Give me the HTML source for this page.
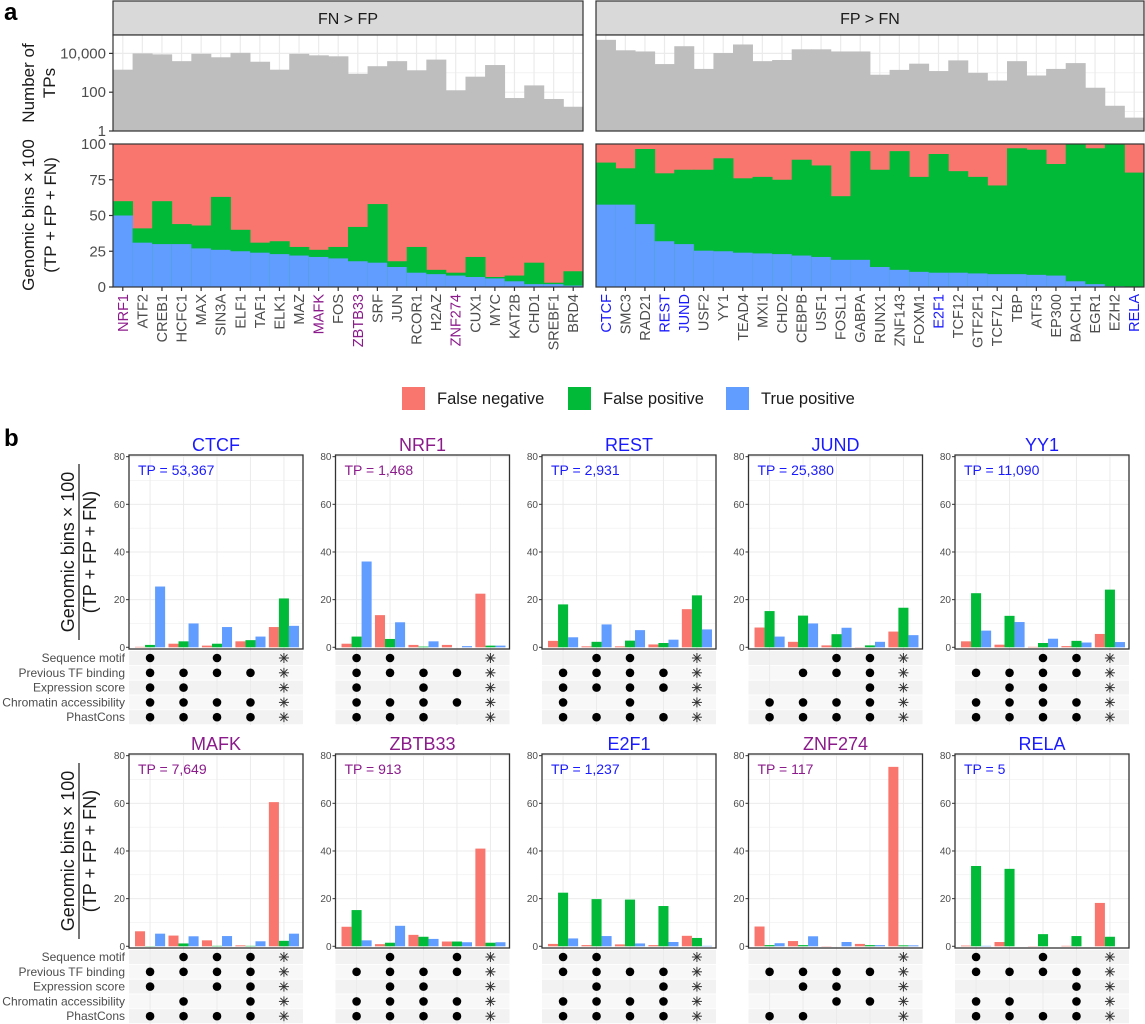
<!DOCTYPE html>
<html><head><meta charset="utf-8"><style>
body{margin:0;background:#fff}
svg{display:block;font-family:"Liberation Sans",sans-serif}
</style></head><body>
<svg id="fig" width="1145" height="1024" viewBox="0 0 1145 1024" xmlns="http://www.w3.org/2000/svg"></svg>
<script>
// ---------- Panel a data ----------
const leftTFs=["NRF1","ATF2","CREB1","HCFC1","MAX","SIN3A","ELF1","TAF1","ELK1","MAZ","MAFK","FOS","ZBTB33","SRF","JUN","RCOR1","H2AZ","ZNF274","CUX1","MYC","KAT2B","CHD1","SREBF1","BRD4"];
const leftLogTP=[3.16,4.0,3.95,3.6,3.98,3.8,4.03,3.57,3.16,3.98,3.9,3.85,2.95,3.34,3.6,3.13,3.68,2.1,2.8,3.4,1.7,2.35,1.65,1.25];
const leftTP=[50,31,30,30,27,26,25,24,23,22,21,20,18,17,14,10,9,8,7,6,4,2,2,1];
const leftTPFP=[60,41,60,44,43,63,40,31,32,28,26,28,42,58,18,28,12,10,21,7,8,17,3,11];
const rightTFs=["CTCF","SMC3","RAD21","REST","JUND","USF2","YY1","TEAD4","MXI1","CHD2","CEBPB","USF1","FOSL1","GABPA","RUNX1","ZNF143","FOXM1","E2F1","TCF12","GTF2F1","TCF7L2","TBP","ATF3","EP300","BACH1","EGR1","EZH2","RELA"];
const rightLogTP=[4.7,4.16,4.1,3.45,4.37,3.2,4.02,4.46,3.6,3.66,4.21,4.21,4.1,4.1,2.9,3.15,3.47,3.09,3.64,3.0,2.6,3.6,2.86,3.2,3.5,2.23,1.3,0.69];
const rightTP=[57.6,57.6,44,32,30,25.4,25,24,23.5,23,22,21,19,19,14,12,10.6,10,10,9.5,9,9,8.5,8,4,2,0.5,0];
const rightTPFP=[87,83,96.5,79.5,82,82,90,76,77,75,89,85,63.5,95,82,95,77,93,81,77,71,97,96,86,100,97,100,80];
const purpleTFs=["NRF1","MAFK","ZBTB33","ZNF274"];
const blueTFs=["CTCF","REST","JUND","E2F1","RELA"];
const topTicks=[4,2,0];
const topTickLabels=["10,000","100","1"];
const pctTicks=[0,25,50,75,100];

// ---------- Panel b data ----------
const bNames=["CTCF","NRF1","REST","JUND","YY1","MAFK","ZBTB33","E2F1","ZNF274","RELA"];
const bTPLabels=["53,367","1,468","2,931","25,380","11,090","7,649","913","1,237","117","5"];
const bFN=[[0.2,1.5,0.7,2.5,8.5],[1.5,13.5,1,1,22.5],[2.7,0.4,0.4,1.2,16],[8.3,2.3,0.8,0.1,6.6],[2.5,1.1,0.2,0.5,5.6],
 [6.3,4.5,2.5,0.4,60.5],[8.2,0.9,4.8,2,41],[1,0.5,0.8,0.5,4.4],[8.3,2.2,0.1,1,75.3],[0.3,1.8,0.1,0.2,18.2]];
const bFP=[[1,2.5,1.5,3,20.5],[4.5,3.5,0.3,0,0.7],[18,2.3,2.8,1.8,21.8],[15.2,13.3,5.5,0.8,16.6],[22.7,13.2,1.8,2.7,24.2],
 [0.1,1.2,0.2,0.2,2.3],[15.2,1.5,4,2,1.5],[22.5,19.8,19.6,16.9,3.5],[0.5,0.5,0,0.5,0.4],[33.7,32.5,5.1,4.3,4]];
const bTP=[[25.5,10,8.5,4.5,9],[36,10.5,2.5,0.5,0.7],[4.2,9.6,7.2,3.2,7.5],[4.5,10,8.2,2.3,5.1],[7,10.6,3.6,2,2.2],
 [5.3,4.2,4.3,2.1,5.3],[2.5,8.6,3.1,1.7,1.7],[3.3,4.3,1.2,1.8,0.2],[1.3,4.2,1.8,0.5,0.4],[0.2,0,0,0,0]];
const bMatrix=[
 [[1,3],[1,2,3,4],[1,2],[1,2,3,4],[1,2,3,4]],
 [[1,2],[1,2,3,4],[1,3],[1,2,3,4],[1,2,3]],
 [[2,3],[1,2,3,4],[1,2,3,4],[1,3],[1,2,3,4]],
 [[3,4],[2,3,4],[4],[1,2,3,4],[1,2,3,4]],
 [[3,4],[1,2,3,4],[2,3],[1,2,3,4],[1,2,3,4]],
 [[2,3,4],[1,2,3,4],[1,3,4],[2,4],[1,2,3,4]],
 [[2,4],[1,2,3,4],[2,3],[1,2,3,4],[1,2,3,4]],
 [[1,2],[1,2,3,4],[2,4],[1,2,3,4],[1,2,3,4]],
 [[],[1,2,3,4],[2,3],[3,4],[1,2]],
 [[1,3],[1,2,3,4],[4],[1,2,4],[1,2,3,4]]];
const featureNames=["Sequence motif","Previous TF binding","Expression score","Chromatin accessibility","PhastCons"];
const bTicks=[0,20,40,60,80];

const FN="#F8766D",FP="#00BA38",TPc="#619CFF",BLUE="#1a1aff",PURP="#8b1a8b";
const svg=document.getElementById('fig');
const NS="http://www.w3.org/2000/svg";
function mk(tag,attrs,parent){const e=document.createElementNS(NS,tag);for(const k in attrs)e.setAttribute(k,attrs[k]);(parent||svg).appendChild(e);return e;}
function txt(s,attrs,parent){const e=mk('text',attrs,parent);e.textContent=s;return e;}
function tfColor(n){return purpleTFs.includes(n)?PURP:(blueTFs.includes(n)?BLUE:"#4d4d4d");}

// ---------- Panel a ----------
let t=txt("a",{x:4,y:20,"font-size":24,"font-weight":"bold",fill:"#000"});


const yLog=l=>131-19.4*l;
const yPct=p=>287-1.43*p;
const facets=[{x0:113,x1:583,tfs:leftTFs,lg:leftLogTP,tp:leftTP,tpfp:leftTPFP,title:"FN > FP",key:"fn-gt-fp"},
              {x0:596,x1:1144,tfs:rightTFs,lg:rightLogTP,tp:rightTP,tpfp:rightTPFP,title:"FP > FN",key:"fp-gt-fn"}];
facets.forEach(f=>{
  const g=mk('g',{});
  
  
  const n=f.tfs.length,w=(f.x1-f.x0)/n;
  const xb=i=>f.x0+i*w;
  let s=mk('rect',{x:f.x0,y:1,width:f.x1-f.x0,height:34,fill:"#d9d9d9",stroke:"#333","stroke-width":1.2},g);
  
  
  txt(f.title,{x:(f.x0+f.x1)/2,y:24,"font-size":16,"text-anchor":"middle",fill:"#1a1a1a"},g);
  mk('rect',{x:f.x0,y:35,width:f.x1-f.x0,height:96,fill:"#fff"},g);
  for(let l=0;l<=4.9;l+=1){mk('line',{x1:f.x0,x2:f.x1,y1:yLog(l),y2:yLog(l),stroke:"#ebebeb","stroke-width":l%2==0?1.2:0.6},g);}
  for(let i=0;i<n;i++){const xc=xb(i)+w/2;mk('line',{x1:xc,x2:xc,y1:35,y2:131,stroke:"#ebebeb","stroke-width":1.2},g);}
  for(let i=0;i<n;i++){
    const b=mk('rect',{x:xb(i),y:yLog(f.lg[i]),width:w+0.4,height:131-yLog(f.lg[i]),fill:"#bebebe"},g);
    
    
  }
  mk('rect',{x:f.x0,y:35,width:f.x1-f.x0,height:96,fill:"none",stroke:"#333","stroke-width":1.2},g);
  mk('rect',{x:f.x0,y:yPct(100),width:f.x1-f.x0,height:yPct(0)-yPct(100),fill:FN},g);
  for(let i=0;i<n;i++){
    const b1=mk('rect',{x:xb(i),y:yPct(f.tpfp[i]),width:w+0.4,height:yPct(0)-yPct(f.tpfp[i]),fill:FP},g);
    
    
    const b2=mk('rect',{x:xb(i),y:yPct(f.tp[i]),width:w+0.4,height:yPct(0)-yPct(f.tp[i]),fill:TPc},g);
    
    
  }
  mk('rect',{x:f.x0,y:yPct(100),width:f.x1-f.x0,height:yPct(0)-yPct(100),fill:"none",stroke:"#333","stroke-width":1.2},g);
  for(let i=0;i<n;i++){
    const xc=xb(i)+w/2;
    mk('line',{x1:xc,x2:xc,y1:287,y2:291,stroke:"#333","stroke-width":1.2},g);
    const l=txt(f.tfs[i],{x:0,y:0,"font-size":14.5,"text-anchor":"end",fill:tfColor(f.tfs[i]),transform:`translate(${xc+5},294) rotate(-90)`},g);
    
    
  }
});
topTicks.forEach((l,i)=>{
  mk('line',{x1:109,x2:113,y1:yLog(l),y2:yLog(l),stroke:"#333","stroke-width":1.2});
  txt(topTickLabels[i],{x:106,y:yLog(l)+5,"font-size":15,"text-anchor":"end",fill:"#4d4d4d"});
});
pctTicks.forEach(p=>{
  mk('line',{x1:109,x2:113,y1:yPct(p),y2:yPct(p),stroke:"#333","stroke-width":1.2});
  txt(String(p),{x:106,y:yPct(p)+5,"font-size":15,"text-anchor":"end",fill:"#4d4d4d"});
});
t=txt("Number of",{x:0,y:0,"font-size":17,"text-anchor":"middle",fill:"#1a1a1a",transform:"translate(34,83) rotate(-90)"});


txt("TPs",{x:0,y:0,"font-size":17,"text-anchor":"middle",fill:"#1a1a1a",transform:"translate(55,83) rotate(-90)"});
t=txt("Genomic bins × 100",{x:0,y:0,"font-size":17,"text-anchor":"middle",fill:"#1a1a1a",transform:"translate(34,215) rotate(-90)"});


txt("(TP + FP + FN)",{x:0,y:0,"font-size":17,"text-anchor":"middle",fill:"#1a1a1a",transform:"translate(56,215) rotate(-90)"});
const leg=mk('g',{});


[[FN,"False negative",402],[FP,"False positive",568],[TPc,"True positive",726]].forEach(([c,s,x])=>{
  const r=mk('rect',{x:x,y:387,width:23,height:23,fill:c},leg);
  
  
  txt(s,{x:x+35,y:404,"font-size":16.5,fill:"#1a1a1a"},leg);
});

// ---------- Panel b ----------
t=txt("b",{x:4,y:446,"font-size":24,"font-weight":"bold",fill:"#000"});


const PW=174,unit=PW/5.2;
bNames.forEach((name,k)=>{
  const col=k%5,row=Math.floor(k/5),dy=row*299;
  const px0=129+206.5*col, pyTop=455+dy, pyBot=649+dy;
  const yv=v=>647.3+dy-v*2.383;
  const gx=i=>px0+unit*(i+0.6)+1;
  const g=mk('g',{});
  
  
  const col_=purpleTFs.includes(name)?PURP:BLUE;
  t=txt(name,{x:px0+PW/2,y:451+dy,"font-size":18,"text-anchor":"middle",fill:col_},g);
  
  
  mk('rect',{x:px0,y:pyTop,width:PW,height:pyBot-pyTop,fill:"#fff"},g);
  for(let v=10;v<=80;v+=10)mk('line',{x1:px0,x2:px0+PW,y1:yv(v),y2:yv(v),stroke:"#ebebeb","stroke-width":v%20==0?1:0.5},g);
  for(let r=0;r<5;r++){
    mk('rect',{x:px0,y:651+dy+r*14.8,width:PW,height:14,fill:r%2==0?"#f2f2f2":"#f8f8f8"},g);
  }
  for(let i=0;i<5;i++)mk('line',{x1:gx(i),x2:gx(i),y1:pyTop,y2:725+dy,stroke:"#ebebeb","stroke-width":1},g);
  const series=[[bFN,FN,'fn'],[bFP,FP,'fp'],[bTP,TPc,'tp']];
  for(let i=0;i<5;i++){
    series.forEach(([arr,c,nm],j)=>{
      const v=arr[k][i];
      const b=mk('rect',{x:gx(i)+(j-1.5)*unit*0.3,y:yv(v),width:unit*0.3,height:Math.max(0,yv(0)-yv(v)),fill:c},g);
      
      
    });
  }
  mk('rect',{x:px0,y:pyTop,width:PW,height:pyBot-pyTop,fill:"none",stroke:"#333","stroke-width":1.3},g);
  t=txt("TP = "+bTPLabels[k],{x:px0+9,y:475+dy,"font-size":14,fill:col_},g);
  
  
  bTicks.forEach(v=>{
    mk('line',{x1:px0-3,x2:px0,y1:yv(v),y2:yv(v),stroke:"#333","stroke-width":1},g);
    txt(String(v),{x:px0-4,y:yv(v)+3.5,"font-size":10,"text-anchor":"end",fill:"#4d4d4d"},g);
  });
  for(let r=0;r<5;r++){
    const cy=658+dy+r*14.8;
    bMatrix[k][r].forEach(c=>{
      const d=mk('circle',{cx:gx(c-1),cy:cy,r:4.3,fill:"#000"},g);
      
      
    });
    const ax=gx(4);
    const a=mk('g',{stroke:"#333","stroke-width":1},g);
    
    
    for(let q=0;q<4;q++){const an=q*Math.PI/4;mk('line',{x1:ax-5*Math.cos(an),y1:cy-5*Math.sin(an),x2:ax+5*Math.cos(an),y2:cy+5*Math.sin(an)},a);}
    if(col===0){
      t=txt(featureNames[r],{x:125,y:cy+4,"font-size":12,"text-anchor":"end",fill:"#4d4d4d"},g);
      
      
    }
  }
  if(col===0){
    const cy=(pyTop+pyBot)/2;
    t=txt("Genomic bins × 100",{x:0,y:0,"font-size":18,"text-anchor":"middle",fill:"#1a1a1a",transform:`translate(74,${cy}) rotate(-90)`},g);
    
    
    mk('line',{x1:79,x2:79,y1:cy-88,y2:cy+88,stroke:"#1a1a1a","stroke-width":1.2},g);
    txt("(TP + FP + FN)",{x:0,y:0,"font-size":18,"text-anchor":"middle",fill:"#1a1a1a",transform:`translate(96,${cy}) rotate(-90)`},g);
  }
});
</script>
</body></html>
